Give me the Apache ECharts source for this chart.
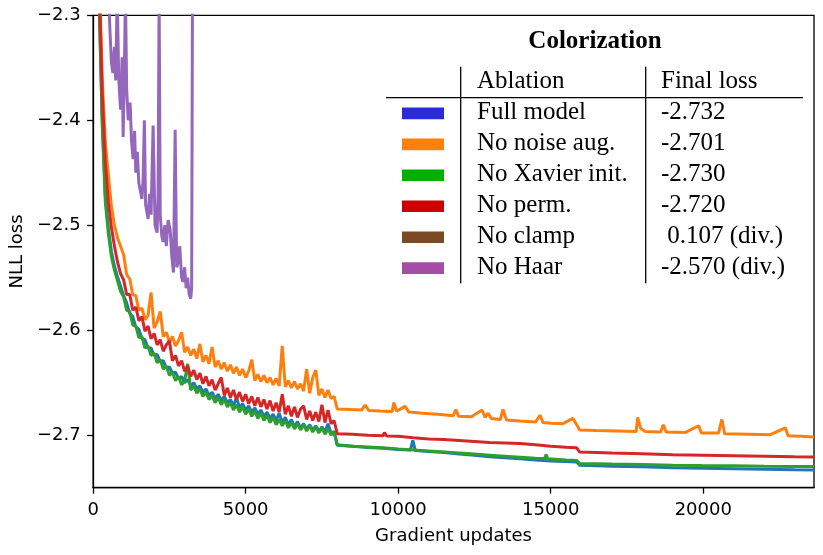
<!DOCTYPE html>
<html>
<head>
<meta charset="utf-8">
<script src="https://cdn.jsdelivr.net/npm/echarts@6/dist/echarts.min.js"></script>
<style>
  html, body { margin: 0; padding: 0; background: #fff; }
  #chart { width: 823px; height: 555px; }
</style>
</head>
<body>
<div id="chart"></div>
<script>
const xTicks = [0, 5000, 10000, 15000, 20000];
const yTicks = [-2.7, -2.6, -2.5, -2.4, -2.3];

// shared x grid for the noisy start of training
const headX = [
  0, 100, 200, 300, 400, 500, 600, 700, 800, 900,
  1000, 1100, 1200, 1300, 1400, 1500, 1600, 1700, 1800, 1900,
  2000, 2100, 2200, 2300, 2400, 2500, 2600, 2700, 2800, 2900,
  3000, 3100, 3200, 3300, 3400, 3500, 3600, 3700, 3800, 3900,
  4000, 4100, 4200, 4300, 4400, 4500, 4600, 4700, 4800, 4900,
  5000, 5100, 5200, 5300, 5400, 5500, 5600, 5700, 5800, 5900,
  6000, 6100, 6200, 6300, 6400, 6500, 6600, 6700, 6800, 6900,
  7000, 7100, 7200, 7300, 7400, 7500, 7600, 7700, 7800, 7900
];

const fullHead = [
  -2.00, -2.18, -2.29, -2.400, -2.472, -2.503, -2.525, -2.539, -2.549, -2.558,
  -2.567, -2.574, -2.584, -2.587, -2.597, -2.599, -2.608, -2.609, -2.617, -2.617,
  -2.624, -2.623, -2.630, -2.629, -2.636, -2.635, -2.641, -2.640, -2.646, -2.644,
  -2.650, -2.647, -2.653, -2.650, -2.656, -2.653, -2.659, -2.656, -2.662, -2.659,
  -2.665, -2.661, -2.667, -2.663, -2.669, -2.666, -2.672, -2.664, -2.674, -2.670,
  -2.676, -2.672, -2.678, -2.674, -2.680, -2.676, -2.682, -2.678, -2.684, -2.680,
  -2.686, -2.679, -2.688, -2.683, -2.690, -2.685, -2.692, -2.687, -2.693, -2.689,
  -2.694, -2.690, -2.695, -2.691, -2.696, -2.692, -2.697, -2.689, -2.698, -2.697
];
const fullTail = [
  [8000, -2.7095], [8500, -2.7105], [9000, -2.7118], [9500, -2.7125], [10000, -2.7135],
  [10400, -2.7140], [10480, -2.7050], [10560, -2.7145], [11000, -2.7155], [11500, -2.7165],
  [12000, -2.7180], [12500, -2.7190], [13000, -2.7205], [13500, -2.7215], [14000, -2.7225],
  [14500, -2.7235], [15000, -2.7245], [15500, -2.7250], [15850, -2.7255], [15950, -2.7285],
  [16500, -2.7290], [17000, -2.7295], [18000, -2.7300], [19000, -2.7310], [20000, -2.7315],
  [21000, -2.7320], [22000, -2.7325], [23000, -2.7330], [23630, -2.7332]
];

const noiseHead = [
  -2.00, -2.15, -2.26, -2.360, -2.420, -2.452, -2.482, -2.500, -2.512, -2.520,
  -2.528, -2.547, -2.551, -2.566, -2.567, -2.581, -2.579, -2.590, -2.586, -2.564,
  -2.598, -2.592, -2.582, -2.606, -2.602, -2.611, -2.606, -2.615, -2.610, -2.602,
  -2.621, -2.616, -2.624, -2.618, -2.627, -2.613, -2.630, -2.624, -2.632, -2.616,
  -2.635, -2.629, -2.637, -2.631, -2.639, -2.633, -2.641, -2.635, -2.643, -2.637,
  -2.645, -2.639, -2.628, -2.648, -2.642, -2.649, -2.643, -2.650, -2.645, -2.652,
  -2.646, -2.653, -2.615, -2.654, -2.648, -2.655, -2.649, -2.656, -2.651, -2.658,
  -2.637, -2.660, -2.645, -2.638, -2.662, -2.656, -2.664, -2.657, -2.665, -2.663
];
const noiseTail = [
  [8000, -2.6750], [8400, -2.6755], [8800, -2.6760], [8920, -2.6713], [9040, -2.6765],
  [9400, -2.6770], [9800, -2.6775], [9860, -2.6690], [9950, -2.6770], [10230, -2.6725],
  [10350, -2.6780], [10800, -2.6790], [11300, -2.6800], [11800, -2.6815], [11890, -2.6755],
  [11980, -2.6820], [12400, -2.6825], [12750, -2.6760], [12850, -2.6830], [12950, -2.6790],
  [13050, -2.6840], [13350, -2.6850], [13435, -2.6755], [13550, -2.6855], [14000, -2.6865],
  [14500, -2.6875], [14650, -2.6810], [14750, -2.6880], [15000, -2.6885], [15400, -2.6890],
  [15730, -2.6840], [15850, -2.6900], [15950, -2.6950], [16500, -2.6955], [17200, -2.6960],
  [17800, -2.6965], [17850, -2.6830], [17950, -2.6935], [18100, -2.6965], [18600, -2.6970],
  [18690, -2.6900], [18780, -2.6970], [19400, -2.6975], [19850, -2.6910], [19940, -2.6980],
  [20500, -2.6980], [20610, -2.6850], [20700, -2.6985], [21500, -2.6990], [22200, -2.6995],
  [22690, -2.6930], [22780, -2.7005], [23200, -2.7010], [23630, -2.7016]
];

const xavierHead = [
  -2.00, -2.18, -2.29, -2.405, -2.478, -2.508, -2.530, -2.543, -2.553, -2.563,
  -2.568, -2.581, -2.582, -2.595, -2.596, -2.607, -2.606, -2.617, -2.615, -2.624,
  -2.622, -2.631, -2.628, -2.637, -2.634, -2.643, -2.640, -2.648, -2.644, -2.652,
  -2.648, -2.632, -2.657, -2.653, -2.660, -2.656, -2.663, -2.659, -2.666, -2.662,
  -2.669, -2.664, -2.671, -2.666, -2.673, -2.669, -2.676, -2.671, -2.678, -2.673,
  -2.680, -2.675, -2.682, -2.677, -2.684, -2.679, -2.686, -2.681, -2.688, -2.683,
  -2.690, -2.685, -2.691, -2.686, -2.693, -2.688, -2.694, -2.689, -2.695, -2.690,
  -2.696, -2.691, -2.697, -2.692, -2.698, -2.693, -2.699, -2.694, -2.700, -2.696
];
const xavierTail = [
  [8000, -2.7090], [8500, -2.7105], [9000, -2.7112], [9500, -2.7120], [10000, -2.7132],
  [10500, -2.7140], [11000, -2.7150], [11500, -2.7160], [12000, -2.7170], [12500, -2.7180],
  [13000, -2.7190], [13500, -2.7200], [14000, -2.7210], [14500, -2.7220], [14800, -2.7222],
  [14850, -2.7185], [14900, -2.7225], [15500, -2.7235], [15850, -2.7240], [15950, -2.7270],
  [16500, -2.7272], [17000, -2.7275], [18000, -2.7280], [19000, -2.7285], [19850, -2.7288],
  [19900, -2.7272], [19950, -2.7289], [21000, -2.7292], [22000, -2.7295], [23000, -2.7297],
  [23630, -2.7298]
];

const permHead = [
  -2.00, -2.16, -2.27, -2.375, -2.440, -2.478, -2.502, -2.520, -2.535, -2.546,
  -2.552, -2.566, -2.566, -2.581, -2.578, -2.591, -2.587, -2.601, -2.596, -2.608,
  -2.603, -2.614, -2.609, -2.620, -2.614, -2.610, -2.629, -2.624, -2.634, -2.629,
  -2.639, -2.634, -2.644, -2.638, -2.647, -2.641, -2.651, -2.644, -2.653, -2.647,
  -2.657, -2.651, -2.645, -2.662, -2.655, -2.664, -2.657, -2.666, -2.659, -2.668,
  -2.661, -2.670, -2.663, -2.672, -2.664, -2.673, -2.666, -2.675, -2.667, -2.677,
  -2.669, -2.678, -2.661, -2.680, -2.672, -2.682, -2.673, -2.683, -2.675, -2.672,
  -2.685, -2.677, -2.686, -2.678, -2.687, -2.671, -2.688, -2.676, -2.689, -2.686
];
const permTail = [
  [8000, -2.6985], [8500, -2.6990], [9000, -2.7000], [9500, -2.7005], [9550, -2.6975],
  [9620, -2.7008], [10000, -2.7010], [10500, -2.7025], [11000, -2.7035], [11500, -2.7040],
  [12000, -2.7050], [12500, -2.7060], [13000, -2.7070], [13500, -2.7075], [14000, -2.7080],
  [14500, -2.7090], [15000, -2.7105], [15500, -2.7115], [15850, -2.7120], [15950, -2.7160],
  [16500, -2.7165], [17000, -2.7170], [18000, -2.7177], [19000, -2.7185], [20000, -2.7190],
  [21000, -2.7195], [22000, -2.7200], [23000, -2.7205], [23630, -2.7207]
];

const haarPoints = [
  [300, -2.10], [450, -2.25], [520, -2.29], [560, -2.32], [600, -2.345], [650, -2.355],
  [700, -2.33], [740, -2.362], [790, -2.28], [840, -2.36], [900, -2.39], [950, -2.34],
  [985, -2.416], [1020, -2.36], [1060, -2.28], [1100, -2.37], [1150, -2.40], [1213, -2.383],
  [1260, -2.42], [1312, -2.437], [1360, -2.41], [1400, -2.45], [1450, -2.43], [1500, -2.46],
  [1541, -2.466], [1600, -2.475], [1640, -2.455], [1680, -2.40], [1720, -2.48], [1803, -2.494],
  [1850, -2.47], [1900, -2.49], [1967, -2.405], [2030, -2.50], [2098, -2.507], [2130, -2.47],
  [2164, -2.28], [2200, -2.49], [2250, -2.51], [2295, -2.516], [2350, -2.50], [2400, -2.52],
  [2460, -2.495], [2525, -2.504], [2580, -2.53], [2634, -2.545], [2689, -2.409], [2740, -2.54],
  [2790, -2.535], [2840, -2.52], [2900, -2.55], [2951, -2.554], [3000, -2.54], [3050, -2.56],
  [3100, -2.55], [3150, -2.566], [3200, -2.57], [3230, -2.56], [3260, -2.25]
];

// legend table
const ablationNames = ['Full model', 'No noise aug.', 'No Xavier init.', 'No perm.', 'No clamp', 'No Haar'];
const finalLosses = ['-2.732', '-2.701', '-2.730', '-2.720', ' 0.107 (div.)', '-2.570 (div.)'];
const swatchColors = ['#2b2bd8', '#ff800a', '#00b000', '#cc0000', '#7a4a24', '#a64ca6'];

function zip(xs, ys) {
  return xs.map((x, i) => [x, ys[i]]);
}

const lines = [
  { name: 'Full model', color: '#1f77b4', data: zip(headX, fullHead).concat(fullTail) },
  { name: 'No noise aug.', color: '#ff7f0e', data: zip(headX, noiseHead).concat(noiseTail) },
  { name: 'No Xavier init.', color: '#2ca02c', data: zip(headX, xavierHead).concat(xavierTail) },
  { name: 'No perm.', color: '#d62728', data: zip(headX, permHead).concat(permTail) },
  { name: 'No Haar', color: '#9467bd', data: haarPoints }
];

const serif = '"Liberation Serif", "Times New Roman", serif';
const sans = '"DejaVu Sans", sans-serif';

function buildTable() {
  const els = [];
  const font = '25px ' + serif;
  els.push({
    type: 'text', x: 595, y: 42,
    style: { text: 'Colorization', font: 'bold 25px ' + serif, fill: '#000', align: 'center', verticalAlign: 'middle' }
  });
  els.push({
    type: 'text', x: 477, y: 81,
    style: { text: 'Ablation', font: font, fill: '#000', align: 'left', verticalAlign: 'middle' }
  });
  els.push({
    type: 'text', x: 661, y: 81,
    style: { text: 'Final loss', font: font, fill: '#000', align: 'left', verticalAlign: 'middle' }
  });
  els.push({ type: 'line', shape: { x1: 386, y1: 97.7, x2: 803, y2: 97.7 }, style: { stroke: '#000', lineWidth: 1.3 } });
  els.push({ type: 'line', shape: { x1: 460.7, y1: 66.7, x2: 460.7, y2: 283.3 }, style: { stroke: '#000', lineWidth: 1.3 } });
  els.push({ type: 'line', shape: { x1: 645.7, y1: 66.7, x2: 645.7, y2: 283.3 }, style: { stroke: '#000', lineWidth: 1.3 } });
  ablationNames.forEach((name, i) => {
    const base = 119.3 + i * 30.95;
    els.push({
      type: 'rect', shape: { x: 402, y: base - 11.7, width: 42, height: 11.6 },
      style: { fill: swatchColors[i] }
    });
    els.push({
      type: 'text', x: 477, y: base - 7,
      style: { text: name, font: font, fill: '#000', align: 'left', verticalAlign: 'middle' }
    });
    els.push({
      type: 'text', x: 661, y: base - 7,
      style: { text: finalLosses[i], font: font, fill: '#000', align: 'left', verticalAlign: 'middle' }
    });
  });
  return els;
}

const chart = echarts.init(document.getElementById('chart'));
chart.setOption({
  animation: false,
  backgroundColor: '#fff',
  grid: {
    left: 92.7, right: 9, top: 15.3, bottom: 67.3,
    show: true, borderColor: '#000', borderWidth: 1.3, backgroundColor: 'transparent'
  },
  xAxis: {
    type: 'value',
    min: 0,
    max: 23630,
    name: 'Gradient updates',
    nameLocation: 'middle',
    nameGap: 40,
    nameTextStyle: { fontFamily: sans, fontSize: 18, color: '#000' },
    axisLine: { show: true, lineStyle: { color: '#000', width: 1.3 } },
    axisTick: { show: true, length: 6, customValues: xTicks, lineStyle: { color: '#000', width: 1.3 } },
    axisLabel: {
      customValues: xTicks, margin: 14, fontFamily: sans, fontSize: 18, color: '#000',
      formatter: v => String(v)
    },
    splitLine: { show: false }
  },
  yAxis: {
    type: 'value',
    min: -2.75,
    max: -2.3,
    name: 'NLL loss',
    nameLocation: 'middle',
    nameGap: 64,
    nameTextStyle: { fontFamily: sans, fontSize: 18, color: '#000' },
    axisLine: { show: true, lineStyle: { color: '#000', width: 1.3 } },
    axisTick: { show: true, length: 6, customValues: yTicks, lineStyle: { color: '#000', width: 1.3 } },
    axisLabel: {
      customValues: yTicks, margin: 12.5, fontFamily: sans, fontSize: 18, color: '#000',
      formatter: v => (v < 0 ? '\u2212' : '') + Math.abs(v).toFixed(1)
    },
    splitLine: { show: false }
  },
  series: lines.map(s => ({
    name: s.name,
    type: 'line',
    data: s.data,
    symbol: 'none',
    clip: true,
    lineStyle: { color: s.color, width: 3 },
    itemStyle: { color: s.color }
  })),
  graphic: buildTable()
});
</script>
</body>
</html>
